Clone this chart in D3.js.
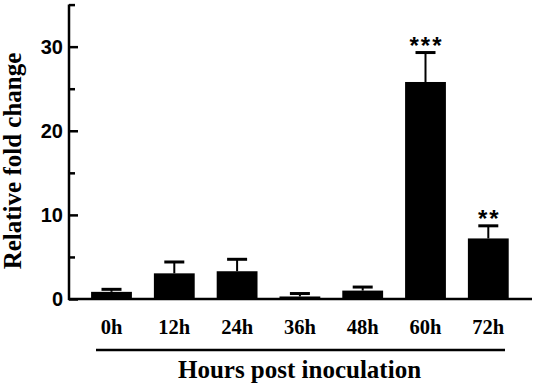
<!DOCTYPE html>
<html>
<head>
<meta charset="utf-8">
<script src="https://cdn.jsdelivr.net/npm/d3@7"></script>
<style>
  body { margin: 0; background: #fff; }
  .tick-y { font-family: "Liberation Sans", Arial, sans-serif; font-weight: bold; font-size: 20px; }
  .tick-x { font-family: "Liberation Serif", "Times New Roman", serif; font-weight: bold; font-size: 20.5px; }
  .title { font-family: "Liberation Serif", "Times New Roman", serif; font-weight: bold; }
  .star { font-family: "Liberation Sans", Arial, sans-serif; font-weight: bold; font-size: 24px; letter-spacing: 2px; }
</style>
</head>
<body>
<svg width="536" height="388"></svg>
<script>
// data
const hours = ["0h", "12h", "24h", "36h", "48h", "60h", "72h"];
const foldChange = [0.85, 3.05, 3.3, 0.3, 1.0, 25.8, 7.2];
const errors = [0.3, 1.35, 1.42, 0.35, 0.42, 3.5, 1.5];
const stars = ["", "", "", "", "", "***", "**"];
const majorTicks = [0, 10, 20, 30];
const minorTicks = [5, 15, 25, 35];

const svg = d3.select("svg");

// scales
const x = d3.scaleBand()
    .domain(hours)
    .range([80.1, 519.7])
    .paddingInner(0.35)
    .paddingOuter(0.175);

const y = d3.scaleLinear()
    .domain([0, 35])
    .range([299, 4.6]);

// axes: ticks point inward
svg.append("g")
    .attr("transform", "translate(69,0)")
    .call(d3.axisRight(y).tickValues(majorTicks).tickSize(9).tickFormat(""))
    .call(g => g.select(".domain").remove())
    .selectAll("line")
    .attr("stroke", "#000")
    .attr("stroke-width", 2.5);

svg.append("g")
    .attr("transform", "translate(69,0)")
    .call(d3.axisRight(y).tickValues(minorTicks).tickSize(6).tickFormat(""))
    .call(g => g.select(".domain").remove())
    .selectAll("line")
    .attr("stroke", "#000")
    .attr("stroke-width", 2.5);

svg.selectAll(".ylab")
    .data(majorTicks)
    .enter()
    .append("text")
    .attr("class", "tick-y")
    .attr("x", 63)
    .attr("y", d => y(d) + 7)
    .attr("text-anchor", "end")
    .text(d => d);

// axis lines
svg.append("line")
    .attr("x1", 69).attr("x2", 69)
    .attr("y1", y(35)).attr("y2", y(0) + 1)
    .attr("stroke", "#000").attr("stroke-width", 2.5);

svg.append("line")
    .attr("x1", 68).attr("x2", 532)
    .attr("y1", y(0)).attr("y2", y(0))
    .attr("stroke", "#000").attr("stroke-width", 2.5);

// bars
svg.selectAll(".bar")
    .data(hours)
    .enter()
    .append("rect")
    .attr("x", d => x(d))
    .attr("y", (d, i) => y(foldChange[i]))
    .attr("width", x.bandwidth())
    .attr("height", (d, i) => y(0) - y(foldChange[i]))
    .attr("fill", "#000");

// error bars (upper only)
const cx = d => x(d) + x.bandwidth() / 2;
svg.selectAll(".stem")
    .data(hours)
    .enter()
    .append("line")
    .attr("x1", cx).attr("x2", cx)
    .attr("y1", (d, i) => y(foldChange[i]))
    .attr("y2", (d, i) => y(foldChange[i] + errors[i]))
    .attr("stroke", "#000").attr("stroke-width", 2);

svg.selectAll(".cap")
    .data(hours)
    .enter()
    .append("line")
    .attr("x1", d => cx(d) - 10).attr("x2", d => cx(d) + 10)
    .attr("y1", (d, i) => y(foldChange[i] + errors[i]))
    .attr("y2", (d, i) => y(foldChange[i] + errors[i]))
    .attr("stroke", "#000").attr("stroke-width", 3);

// significance marks
svg.selectAll(".star")
    .data(hours)
    .enter()
    .append("text")
    .attr("class", "star")
    .attr("x", d => cx(d) + 1)
    .attr("y", (d, i) => y(foldChange[i] + errors[i]) + 1)
    .attr("text-anchor", "middle")
    .text((d, i) => stars[i]);

// x labels
svg.selectAll(".xlab")
    .data(hours)
    .enter()
    .append("text")
    .attr("class", "tick-x")
    .attr("x", cx)
    .attr("y", 334)
    .attr("text-anchor", "middle")
    .text(d => d);

// line under the labels
svg.append("line")
    .attr("x1", 96).attr("x2", 505)
    .attr("y1", 350).attr("y2", 350)
    .attr("stroke", "#000").attr("stroke-width", 2.5);

// titles
svg.append("text")
    .attr("class", "title")
    .attr("x", 299.5)
    .attr("y", 378)
    .attr("text-anchor", "middle")
    .style("font-size", "25px")
    .text("Hours post inoculation");

svg.append("text")
    .attr("class", "title")
    .attr("transform", "translate(21,161) rotate(-90)")
    .attr("text-anchor", "middle")
    .style("font-size", "25px")
    .text("Relative fold change");
</script>
</body>
</html>
